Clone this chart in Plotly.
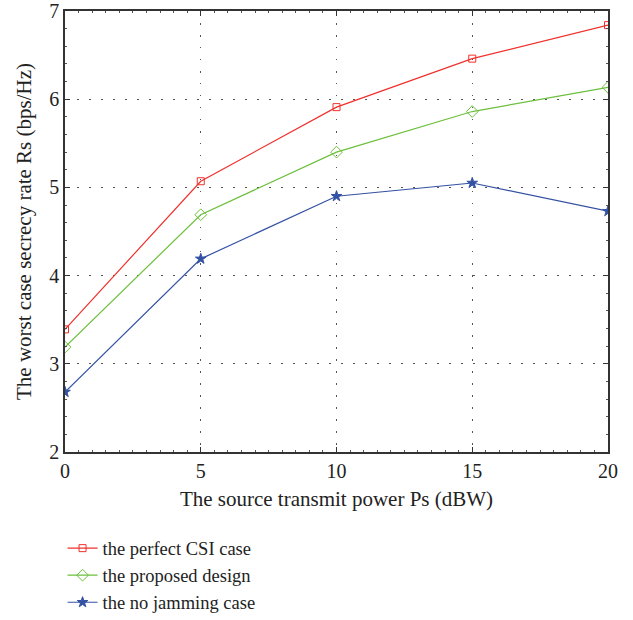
import plotly.graph_objects as go

power = [0, 5, 10, 15, 20]
perfect_csi = [3.39, 5.07, 5.91, 6.46, 6.84]
proposed = [3.19, 4.69, 5.40, 5.86, 6.135]
no_jamming = [2.68, 4.19, 4.90, 5.05, 4.73]

x_ticks = [0, 5, 10, 15, 20]
y_ticks = [2, 3, 4, 5, 6, 7]

FONT = "Liberation Serif"
TXT = "#222222"

fig = go.Figure()
series = [
    ("the perfect CSI case", perfect_csi, "#f0302c", "square-open", 7),
    ("the proposed design", proposed, "#6cbf3c", "diamond-open", 9),
    ("the no jamming case", no_jamming, "#3452a4", "star", 8),
]
for name, vals, col, sym, sz in series:
    fig.add_trace(go.Scatter(
        x=power, y=vals, name=name, mode="lines+markers",
        line=dict(color=col, width=1.2),
        marker=dict(symbol=sym, size=sz, color=col, line=dict(color=col, width=1)),
    ))

axis_common = dict(
    showline=True, linecolor="#333333", linewidth=1.5, mirror="ticks",
    ticks="inside", ticklen=5, tickcolor="#333333", tickwidth=1,
    showgrid=True, gridcolor="#555555", griddash="1.5px,10.5px", gridwidth=1.2,
    zeroline=False, automargin=False, ticklabeloverflow="allow",
    tickfont=dict(family=FONT, size=20, color=TXT),
)

fig.update_xaxes(
    range=[0, 20], tickvals=x_ticks,
    title=dict(text="The source transmit power Ps (dBW)", font=dict(family=FONT, size=21, color=TXT), standoff=11),
    minor=dict(dtick=0.5, ticks="inside", ticklen=2, tickcolor="#555555", showgrid=False),
    **axis_common,
)
fig.update_yaxes(
    range=[2, 7], tickvals=y_ticks,
    title=dict(text="The worst case secrecy rate Rs (bps/Hz)", font=dict(family=FONT, size=21, color=TXT), standoff=12),
    minor=dict(dtick=0.2, ticks="inside", ticklen=2, tickcolor="#555555", showgrid=False),
    **axis_common,
)

fig.update_layout(
    width=633, height=650,
    margin=dict(l=65, r=25, t=11, b=198),
    paper_bgcolor="white", plot_bgcolor="white",
    font=dict(family=FONT, size=20, color=TXT),
    legend=dict(
        x=-0.0045, y=-0.176, xanchor="left", yanchor="top",
        font=dict(family=FONT, size=18.5, color=TXT),
        bgcolor="rgba(0,0,0,0)", itemwidth=30, tracegroupgap=0,
    ),
    showlegend=True,
)

fig.write_html(
    "out.html",
    config={"displayModeBar": False},
    post_script="document.body.style.margin='0px';",
)
